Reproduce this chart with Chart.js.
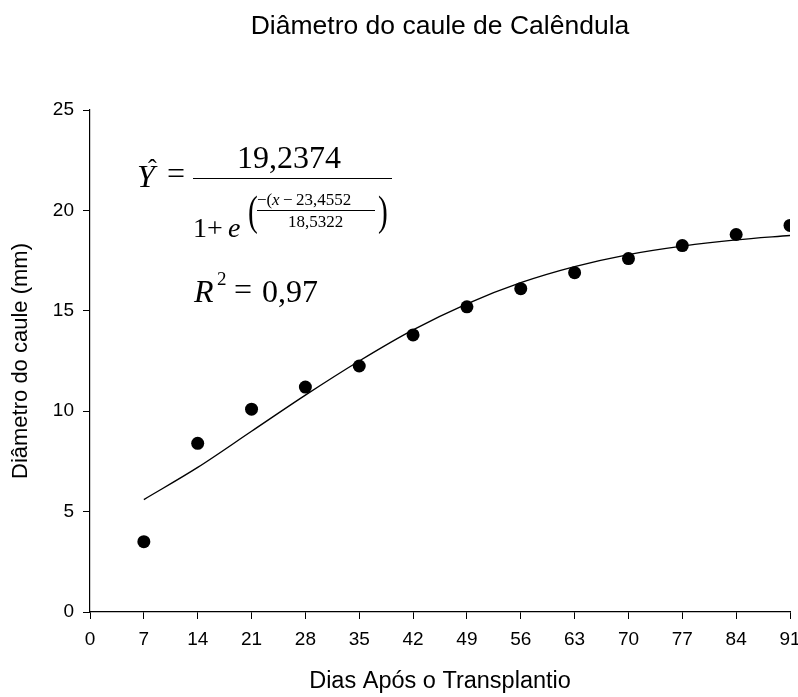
<!DOCTYPE html>
<html><head><meta charset="utf-8">
<script src="https://cdn.jsdelivr.net/npm/chart.js@4/dist/chart.umd.min.js"></script>
<style>html,body{margin:0;padding:0;background:#fff;}</style>
</head><body>
<canvas id="c" width="798" height="697"></canvas>
<script>
// ---- data ----
const days = [7, 14, 21, 28, 35, 42, 49, 56, 63, 70, 77, 84, 91];
const diameter = [3.5, 8.4, 10.1, 11.2, 12.25, 13.8, 15.2, 16.1, 16.9, 17.6, 18.25, 18.8, 19.25];
const fittedDays = [7, 14, 21, 28, 35, 42, 49, 56, 63, 70, 77, 84, 91];
const fittedDiameter = [5.6, 7.2, 9.0, 10.8, 12.5, 14.05, 15.35, 16.4, 17.2, 17.8, 18.22, 18.53, 18.75];
const xTickValues = [0, 7, 14, 21, 28, 35, 42, 49, 56, 63, 70, 77, 84, 91];
const yTickValues = [0, 5, 10, 15, 20, 25];

const titleText = 'Diâmetro do caule de Calêndula';
const xTitle = 'Dias Após o Transplantio';
const yTitle = 'Diâmetro do caule (mm)';

const SANS = 'Liberation Sans, Arial, sans-serif';
const SERIF = 'Liberation Serif, Times New Roman, serif';

const equationPlugin = {
  id: 'equation',
  afterDraw(chart) {
    const ctx = chart.ctx;
    ctx.save();
    ctx.fillStyle = '#000';
    ctx.strokeStyle = '#000';
    ctx.textBaseline = 'alphabetic';
    ctx.textAlign = 'left';
    const t = (s, x, y, size, italic) => {
      ctx.font = (italic ? 'italic ' : '') + size + 'px ' + SERIF;
      ctx.fillText(s, x, y);
    };
    const paren = (s, x, y) => {
      ctx.save();
      ctx.translate(x, y);
      ctx.scale(0.7, 1);
      ctx.font = '42px ' + SERIF;
      ctx.fillText(s, 0, 0);
      ctx.restore();
    };
    // Y hat = fraction
    t('Y', 137, 187, 32, true);
    t('\u02C6', 148, 177, 26, false);
    t('=', 167, 184, 32, false);
    ctx.lineWidth = 1.2;
    ctx.beginPath(); ctx.moveTo(193, 178.5); ctx.lineTo(392, 178.5); ctx.stroke();
    t('19,2374', 237, 168, 32, false);
    t('1', 193, 237, 28, false);
    t('+', 207, 237, 28, false);
    t('e', 228, 237, 28, true);
    paren('(', 248, 225);
    paren(')', 378, 225);
    t('\u2212(', 257, 205, 17, false);
    t('x', 272, 205, 17, true);
    t('\u2212', 283, 205, 17, false);
    t('23,4552', 296, 205, 17, false);
    ctx.lineWidth = 1;
    ctx.beginPath(); ctx.moveTo(257, 210.5); ctx.lineTo(375, 210.5); ctx.stroke();
    t('18,5322', 288, 227, 17, false);
    // R^2
    t('R', 194, 302, 32, true);
    t('2', 217, 285, 19, false);
    t('=', 234, 300, 32, false);
    t('0,97', 262, 302, 32, false);
    ctx.restore();
  }
};

new Chart(document.getElementById('c'), {
  type: 'scatter',
  data: {
    datasets: [
      {
        label: 'Observado',
        data: days.map((d, i) => ({ x: d, y: diameter[i] })),
        pointRadius: 6.5,
        pointHoverRadius: 6.5,
        pointBackgroundColor: '#000',
        pointBorderWidth: 0,
        showLine: false
      },
      {
        label: 'Ajuste',
        data: fittedDays.map((d, i) => ({ x: d, y: fittedDiameter[i] })),
        showLine: true,
        pointRadius: 0,
        borderColor: '#000',
        borderWidth: 1.4,
        cubicInterpolationMode: 'monotone',
        fill: false
      }
    ]
  },
  options: {
    responsive: false,
    animation: false,
    events: [],
    layout: { padding: { left: 0, right: 0, top: 0, bottom: 0 } },
    plugins: {
      legend: { display: false },
      tooltip: { enabled: false },
      title: {
        display: true,
        text: titleText,
        fullSize: false,
        color: '#000',
        font: { family: SANS, size: 26.5, weight: 'normal', lineHeight: 1.2 },
        padding: { top: 10.5, bottom: 67.7 }
      }
    },
    scales: {
      x: {
        type: 'linear',
        min: 0, max: 91,
        afterBuildTicks: s => { s.ticks = xTickValues.map(v => ({ value: v })); },
        afterFit: s => { s.height = 85; s.paddingRight = 8; s.paddingLeft = 0; },
        ticks: { color: '#000', font: { family: SANS, size: 19 }, padding: 9, maxRotation: 0, autoSkip: false },
        grid: { display: true, drawOnChartArea: false, drawTicks: true, tickLength: 7, color: '#000', lineWidth: 1 },
        border: { display: true, color: '#000', width: 1.3 },
        title: { display: true, text: xTitle, color: '#000', font: { family: SANS, size: 23.5, lineHeight: 1.2 }, padding: { top: 0, bottom: 1 } }
      },
      y: {
        type: 'linear',
        min: 0, max: 25,
        afterBuildTicks: s => { s.ticks = yTickValues.map(v => ({ value: v })); },
        afterFit: s => { s.width = 90; },
        ticks: { color: '#000', font: { family: SANS, size: 19 }, padding: 9 },
        grid: { display: true, drawOnChartArea: false, drawTicks: true, tickLength: 7, color: '#000', lineWidth: 1 },
        border: { display: true, color: '#000', width: 1.2 },
        title: { display: true, text: yTitle, color: '#000', font: { family: SANS, size: 22, lineHeight: 1.2 }, padding: { top: 7.5, bottom: 0 } }
      }
    }
  },
  plugins: [equationPlugin]
});
</script>
</body></html>
